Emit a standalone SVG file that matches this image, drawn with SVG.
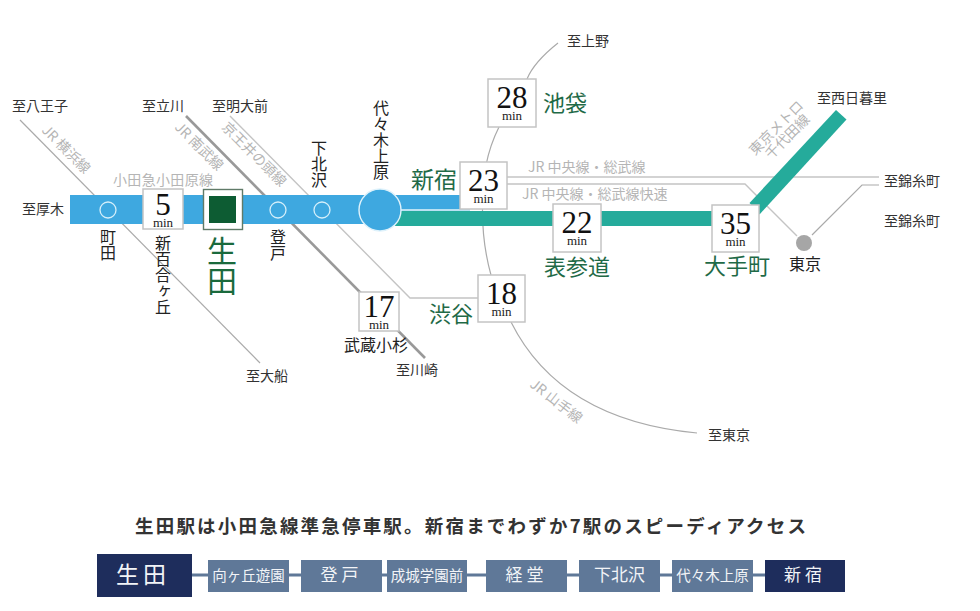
<svg xmlns="http://www.w3.org/2000/svg" width="980" height="611" viewBox="0 0 980 611">
<style>
text{font-family:"Noto Sans CJK JP","Liberation Serif",serif;font-weight:400}
.l{font-size:14px;fill:#333}
.s{font-size:16px;fill:#222}
.g{font-size:14px;fill:#b5b5b5}
.e{font-size:22px;fill:#1f6a47}
.v{writing-mode:vertical-rl;text-anchor:start}
.n{font-family:"Liberation Serif",serif;font-size:31px;fill:#111;text-anchor:middle}
.m{font-family:"Liberation Serif",serif;font-size:13px;fill:#222;text-anchor:middle}
.b{fill:#fff;stroke:#c4c4c4;stroke-width:1.5}
.t{fill:none;stroke:#aaa;stroke-width:1.2}
.c{fill:none;stroke:#c4c4c4;stroke-width:1.4}
.o{fill:#3ea8e0;stroke:#dff2fb;stroke-width:1.4}
.d{fill:#5f7898}
.k{fill:#1e2d5c}
.w{fill:#f2f4f7;text-anchor:middle}
</style>
<rect width="980" height="611" fill="#fff"/>
<g id="connectors">
<path class="t" d="M20 120L260 363"/>
<path d="M186 116L425 358" fill="none" stroke="#999" stroke-width="2.6"/>
<path class="c" d="M230 116L410 298H478"/>
<path class="t" d="M558 43Q534 62 527 79M499 127Q490 145 486 165Q477 225 491 275M511 322Q560 420 697 433"/>
<path class="c" d="M507 177H879"/>
<path class="c" d="M507 184H745L797 236"/>
<path class="t" d="M812 235L862 185H879"/>
<rect x="70" y="195" width="400" height="29" fill="#3ea8e0"/>
<path d="M395 211V226H740V211Z" fill="#25ab9b"/>
<path d="M836 110L846.500 119.500L759.500 214.500L749.500 203Z" fill="#25ab9b"/>
<path d="M396 210H470" stroke="#e4f4f8" stroke-width="1.6" fill="none"/>
<g fill="#5f7898">
<rect x="190" y="573.500" width="20" height="3"/>
<rect x="288" y="573.500" width="15" height="3"/>
<rect x="380" y="573.500" width="9" height="3"/>
<rect x="466" y="573.500" width="22" height="3"/>
<rect x="566" y="573.500" width="15" height="3"/>
<rect x="659" y="573.500" width="15" height="3"/>
<rect x="752" y="573.500" width="15" height="3"/>
</g>
</g>
<g id="line-labels">
<text class="g" x="113" y="185" textLength="100">小田急小田原線</text>
<text class="g" transform="translate(41 131) rotate(45)">JR 横浜線</text>
<text class="g" transform="translate(174 128) rotate(45)">JR 南武線</text>
<text class="g" transform="translate(221 128) rotate(45)">京王井の頭線</text>
<text class="g" x="528" y="172">JR 中央線・総武線</text>
<text class="g" x="522" y="199">JR 中央線・総武線快速</text>
<text class="g" transform="translate(529 386) rotate(38)">JR 山手線</text>
<text class="g" transform="translate(755 156) rotate(-45)" textLength="70">東京メトロ</text>
<text class="g" transform="translate(771 160) rotate(-45)" textLength="56">千代田線</text>
</g>
<g id="terminals">
<text class="l" x="12" y="111">至八王子</text>
<text class="l" x="142" y="111">至立川</text>
<text class="l" x="212" y="111">至明大前</text>
<text class="l" x="22" y="214">至厚木</text>
<text class="l" x="567" y="46">至上野</text>
<text class="l" x="817" y="103">至西日暮里</text>
<text class="l" x="884" y="186">至錦糸町</text>
<text class="l" x="884" y="226">至錦糸町</text>
<text class="l" x="246" y="381">至大船</text>
<text class="l" x="396" y="375">至川崎</text>
<text class="l" x="708" y="440">至東京</text>
</g>
<g id="machida"><circle cx="108" cy="210" r="8" fill="none" stroke="#d5effa" stroke-width="1.3"/><text class="s v" x="108" y="229">町田</text></g>
<g id="shinyurigaoka"><rect class="b" x="143" y="189" width="40" height="40"/><text class="n" x="163" y="215">5</text><text class="m" x="163" y="227">min</text><text class="s v" x="163" y="235">新百合ヶ丘</text></g>
<g id="ikuta"><rect x="203.500" y="189.500" width="39" height="40" fill="#fff" stroke="#5f7a68" stroke-width="1.4"/><rect x="209" y="196" width="27" height="27" fill="#0d5c33"/><text class="v" x="222" y="236" style="font-size:30px;fill:#1a6a3c">生田</text></g>
<g id="noborito"><circle cx="278" cy="210" r="8" fill="none" stroke="#d5effa" stroke-width="1.3"/><text class="s v" x="278" y="229">登戸</text></g>
<g id="shimokitazawa"><circle cx="322" cy="210" r="8" fill="none" stroke="#d5effa" stroke-width="1.3"/><text class="s v" x="319" y="140">下北沢</text></g>
<g id="yoyogiuehara"><circle class="o" cx="380" cy="210" r="21"/><text class="s v" x="381" y="100">代々木上原</text></g>
<g id="shinjuku"><rect class="b" x="460" y="162" width="47" height="47"/><text class="n" x="483.500" y="191">23</text><text class="m" x="483.500" y="203">min</text><text class="e" x="411" y="188" style="font-size:23px">新宿</text></g>
<g id="ikebukuro"><rect class="b" x="488" y="79" width="48" height="48"/><text class="n" x="512" y="108">28</text><text class="m" x="512" y="120">min</text><text class="e" x="543" y="111">池袋</text></g>
<g id="omotesando"><rect class="b" x="553" y="204" width="48" height="48"/><text class="n" x="577" y="233">22</text><text class="m" x="577" y="245">min</text><text class="e" x="544" y="275">表参道</text></g>
<g id="otemachi"><rect class="b" x="712" y="205" width="47" height="47"/><text class="n" x="735.500" y="234">35</text><text class="m" x="735.500" y="246">min</text><text class="e" x="704" y="274">大手町</text></g>
<g id="tokyo"><circle cx="804" cy="243" r="8" fill="#a6a6a6"/><text class="s" x="789" y="270">東京</text></g>
<g id="musashikosugi"><rect class="b" x="359" y="292" width="40" height="39"/><text class="n" x="379" y="317">17</text><text class="m" x="379" y="329">min</text><text class="s" x="344" y="351">武蔵小杉</text></g>
<g id="shibuya"><rect class="b" x="478" y="275" width="47" height="47"/><text class="n" x="501.500" y="304">18</text><text class="m" x="501.500" y="316">min</text><text class="e" x="429" y="322">渋谷</text></g>
<g id="headline"><text x="135" y="533" textLength="671" style="font-size:18.500px;fill:#333;font-weight:700">生田駅は小田急線準急停車駅。新宿までわずか7駅のスピーディアクセス</text></g>
<g id="s1"><rect class="k" x="97" y="554" width="95" height="43"/><text class="w" x="143" y="583" style="font-size:23px;letter-spacing:4px">生田</text></g>
<g id="s2"><rect class="d" x="208" y="560" width="81" height="32"/><text class="w" x="248.500" y="581" style="font-size:14.500px">向ヶ丘遊園</text></g>
<g id="s3"><rect class="d" x="301" y="560" width="81" height="32"/><text class="w" x="341.500" y="581" style="font-size:17px;letter-spacing:4px">登戸</text></g>
<g id="s4"><rect class="d" x="387" y="560" width="80" height="32"/><text class="w" x="427" y="581" style="font-size:14.500px">成城学園前</text></g>
<g id="s5"><rect class="d" x="486" y="560" width="81" height="32"/><text class="w" x="526.500" y="581" style="font-size:17px;letter-spacing:4px">経堂</text></g>
<g id="s6"><rect class="d" x="579" y="560" width="81" height="32"/><text class="w" x="619.500" y="581" style="font-size:17px">下北沢</text></g>
<g id="s7"><rect class="d" x="672" y="560" width="81" height="32"/><text class="w" x="712.500" y="581" style="font-size:14.500px">代々木上原</text></g>
<g id="s8"><rect class="k" x="765" y="560" width="80" height="32"/><text class="w" x="805" y="581" style="font-size:17px;letter-spacing:4px">新宿</text></g>
</svg>
